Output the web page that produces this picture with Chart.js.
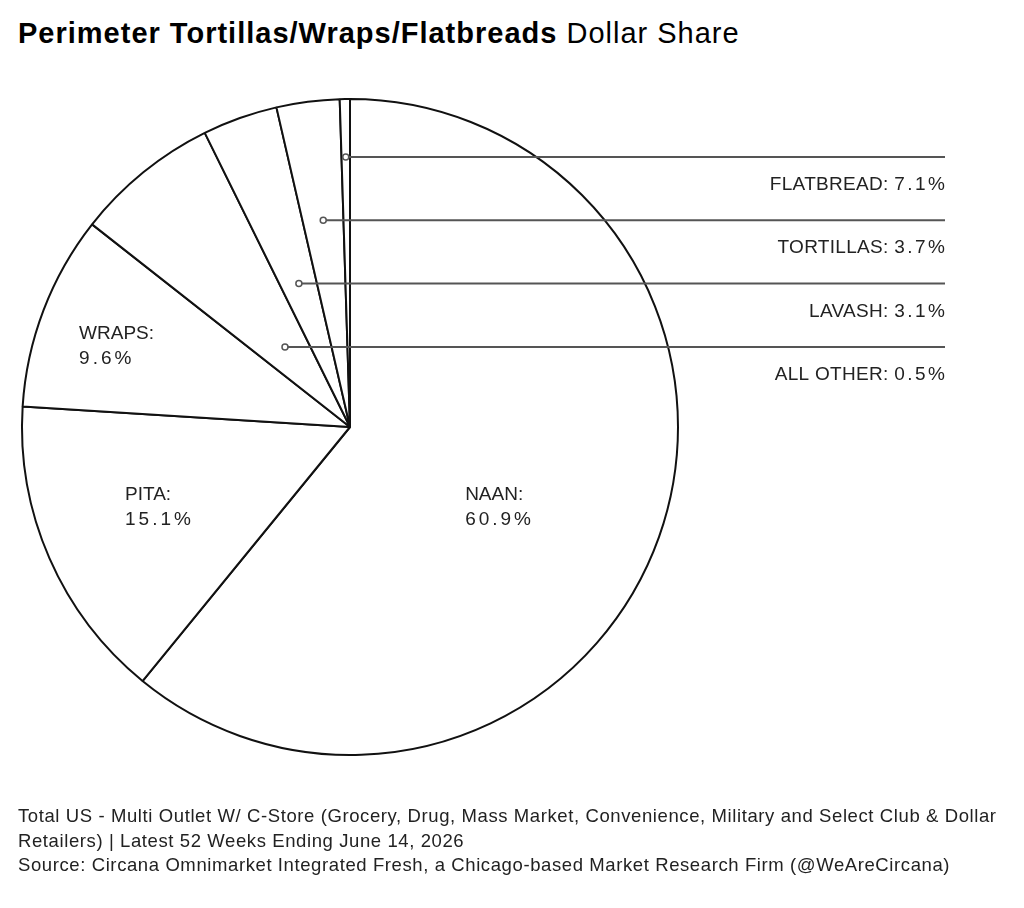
<!DOCTYPE html>
<html lang="en">
<head>
<meta charset="UTF-8" />
<meta name="viewport" content="width=device-width, initial-scale=1.0" />
<title>Perimeter Tortillas/Wraps/Flatbreads Dollar Share</title>
<script src="https://cdn.jsdelivr.net/npm/chart.js"></script>
<style>
  body { margin: 0; background: #fff; }
  #page { position: relative; width: 1024px; height: 908px; overflow: hidden; }
  #title {
    position: absolute; left: 18px; top: 13px; white-space: nowrap;
    font-family: "Liberation Sans", Arial, sans-serif; font-size: 29px; line-height: 40px;
    letter-spacing: 1px; color: #000;
  }
  #title b { font-weight: 700; }
  #chartBox { position: absolute; left: 0; top: 0; width: 1024px; height: 908px; }
  #footer {
    position: absolute; left: 18px; top: 804px; white-space: nowrap;
    font-family: "Liberation Sans", Arial, sans-serif; font-size: 18.5px; line-height: 24.5px;
    color: #222; letter-spacing: 0.6px;
  }
</style>
</head>
<body>
<div id="page">
  <div id="title"><b>Perimeter Tortillas/Wraps/Flatbreads</b> Dollar Share</div>
  <div id="chartBox"><canvas id="shareChart" width="1024" height="908"></canvas></div>
  <div id="footer">
    Total US - Multi Outlet W/ C-Store (Grocery, Drug, Mass Market, Convenience, Military and Select Club &amp; Dollar<br>
    Retailers) | Latest 52 Weeks Ending June 14, 2026<br>
    Source: Circana Omnimarket Integrated Fresh, a Chicago-based Market Research Firm (@WeAreCircana)
  </div>
</div>

<script>
  // data, clockwise from 12 o'clock
  const categories = ["NAAN", "PITA", "WRAPS", "FLATBREAD", "TORTILLAS", "LAVASH", "ALL OTHER"];
  const shares = [60.9, 15.1, 9.6, 7.1, 3.7, 3.1, 0.5];

  // big slices are labelled inside, small ones on the right with leader lines
  const insideLabels = ["NAAN", "PITA", "WRAPS"];
  const calloutLabels = ["FLATBREAD", "TORTILLAS", "LAVASH", "ALL OTHER"];

  // layout only
  const insideAnchor = { NAAN: [0.351, 0.223], PITA: [-0.686, 0.223], WRAPS: [-0.826, -0.268] };
  const calloutTop = 157;
  const calloutGap = 63.3;
  const calloutRight = 945;
  const labelFont = '19px "Liberation Sans", Arial, sans-serif';

  const pct = (v) => v.toFixed(1) + "%";

  function drawSpaced(ctx, text, x, y, spacing) {
    ctx.letterSpacing = spacing + "px";
    ctx.fillText(text, x, y);
    const w = ctx.measureText(text).width - spacing;
    ctx.letterSpacing = "0px";
    return w;
  }

  const labelPlugin = {
    id: "shareLabels",
    afterDraw(chart) {
      const ctx = chart.ctx;
      const arcs = chart.getDatasetMeta(0).data;
      const cx = arcs[0].x, cy = arcs[0].y, r = arcs[0].outerRadius;
      ctx.save();
      ctx.font = labelFont;
      ctx.fillStyle = "#222";
      ctx.textBaseline = "alphabetic";
      ctx.textAlign = "left";

      insideLabels.forEach((name) => {
        const i = categories.indexOf(name);
        const [fx, fy] = insideAnchor[name];
        const x = cx + fx * r, y = cy + fy * r;
        ctx.fillText(name + ":", x, y);
        drawSpaced(ctx, pct(shares[i]), x, y + 25, 3);
      });

      // callouts: the dot of each row sits on a slice's mid-angle (rows run
      // top-down while the slices run the other way, as in the original)
      calloutLabels.forEach((name, row) => {
        const i = categories.indexOf(name);
        const y = calloutTop + row * calloutGap;
        const dotArc = arcs[categories.length - 1 - row];
        const mid = (dotArc.startAngle + dotArc.endAngle) / 2;
        const dotX = cx + (y - cy) / Math.tan(mid);

        ctx.strokeStyle = "#555";
        ctx.lineWidth = 2;
        ctx.beginPath();
        ctx.moveTo(dotX + 3, y);
        ctx.lineTo(calloutRight, y);
        ctx.stroke();

        ctx.lineWidth = 1.5;
        ctx.fillStyle = "#fff";
        ctx.beginPath();
        ctx.arc(dotX, y, 3, 0, Math.PI * 2);
        ctx.fill();
        ctx.stroke();

        ctx.fillStyle = "#222";
        const num = pct(shares[i]);
        ctx.letterSpacing = "2.5px";
        const numW = ctx.measureText(num).width - 2.5;
        ctx.letterSpacing = "0.3px";
        const head = name + ": ";
        const headW = ctx.measureText(head).width;
        const tx = calloutRight - numW - headW;
        ctx.fillText(head, tx, y + 33);
        ctx.letterSpacing = "0px";
        drawSpaced(ctx, num, tx + headW, y + 33, 2.5);
      });
      ctx.restore();
    }
  };

  new Chart(document.getElementById("shareChart"), {
    type: "pie",
    data: {
      labels: categories,
      datasets: [{
        data: shares,
        backgroundColor: "#fff",
        borderColor: "#111",
        borderWidth: 2,
        hoverOffset: 0
      }]
    },
    options: {
      responsive: false,
      animation: false,
      radius: 328,
      layout: { padding: { left: 0, top: 0, right: 324, bottom: 54 } },
      plugins: { legend: { display: false }, tooltip: { enabled: false } },
      events: []
    },
    plugins: [labelPlugin]
  });
</script>
</body>
</html>
